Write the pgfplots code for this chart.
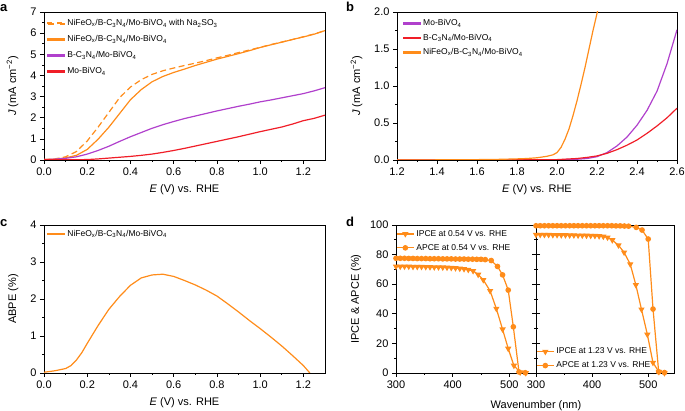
\documentclass[border=0pt]{standalone}
\usepackage{fontspec}
\setmainfont{Liberation Sans}
\usepackage{pgfplots}
\pgfplotsset{compat=1.18}
\definecolor{cor}{RGB}{255,140,26}
\definecolor{cpu}{RGB}{176,64,204}
\definecolor{cre}{RGB}{240,30,40}
\pgfplotsset{
  myax/.style={
    scale only axis, anchor=south west,
    axis line style={line width=0.8pt},
    every tick/.style={black, line width=0.6pt},
    tick align=outside, xtick pos=bottom, ytick pos=left,
    major tick length=4pt, minor tick length=2pt,
    tick label style={font=\fontsize{11}{12}\selectfont},
    label style={font=\fontsize{11}{12}\selectfont},
    xlabel shift=2.5pt, ylabel shift=5pt,
    /pgf/number format/assume math mode=true,
    legend cell align=left,
    legend style={draw=none, fill=none, font=\fontsize{8.5}{9.5}\selectfont, row sep=3.5pt, inner xsep=3pt, inner ysep=3pt},
  },
  ln/.style={line width=1.2pt},
  lgl/.style={legend image code/.code={\fill[##1] (0pt,-0.8pt) rectangle (17pt,0.8pt);}},
  lgd/.style={legend image code/.code={\fill[cor] (0pt,-0.8pt) rectangle (6pt,0.8pt); \fill[cor] (10pt,-0.8pt) rectangle (17pt,0.8pt);}},
  dec1/.style={/pgf/number format/.cd, fixed, fixed zerofill, precision=1},
}
\begin{document}
\begin{tikzpicture}[x=1pt,y=1pt]
\path[use as bounding box] (0,0) rectangle (685,411);
\node[anchor=base west, font=\fontsize{13}{14}\selectfont\bfseries, inner sep=0pt] at (0,399) {a};
\node[anchor=base west, font=\fontsize{13}{14}\selectfont\bfseries, inner sep=0pt] at (346,399) {b};
\node[anchor=base west, font=\fontsize{13}{14}\selectfont\bfseries, inner sep=0pt] at (0,184) {c};
\node[anchor=base west, font=\fontsize{13}{14}\selectfont\bfseries, inner sep=0pt] at (346,184) {d};

% ---------------- panel a
\begin{axis}[myax, lgl, at={(44pt,251pt)}, width=281pt, height=148pt,
  xmin=0, xmax=1.3, ymin=0, ymax=7,
  xtick={0,0.2,0.4,0.6,0.8,1.0,1.2}, minor x tick num=1,
  ytick={0,1,2,3,4,5,6,7}, minor y tick num=1,
  xticklabel style={dec1},
  xlabel={\textit{E} (V) vs. RHE}, ylabel={\textit{J} (mA cm\textsuperscript{−2})},
  legend style={at={(0,1)}, anchor=north west, row sep=4.3pt, inner ysep=5.5pt}]
\addplot[ln, cor, dash pattern=on 6pt off 3.5pt, lgd] coordinates {(0,0.02) (0.05,0.05) (0.1,0.15) (0.15,0.4) (0.2,0.9) (0.25,1.55) (0.3,2.25) (0.35,2.95) (0.4,3.45) (0.45,3.8) (0.5,4.05) (0.55,4.22) (0.6,4.35) (0.65,4.47) (0.7,4.58) (0.75,4.7) (0.8,4.83) (0.85,4.95) (0.9,5.08) (0.95,5.2) (1.0,5.33) (1.05,5.46) (1.1,5.58) (1.15,5.7) (1.2,5.83) (1.25,5.96) (1.3,6.12)};
\addlegendentry{NiFeO\textsubscript{x}/B-C\textsubscript{3}N\textsubscript{4}/Mo-BiVO\textsubscript{4} with Na\textsubscript{2}SO\textsubscript{3}}
\addplot[ln, cor] coordinates {(0,0.02) (0.05,0.04) (0.1,0.1) (0.15,0.22) (0.2,0.5) (0.25,0.98) (0.3,1.55) (0.35,2.2) (0.4,2.85) (0.45,3.33) (0.5,3.7) (0.55,3.95) (0.6,4.14) (0.65,4.3) (0.7,4.47) (0.75,4.62) (0.8,4.77) (0.85,4.9) (0.9,5.03) (0.95,5.17) (1.0,5.32) (1.05,5.45) (1.1,5.57) (1.15,5.7) (1.2,5.82) (1.25,5.95) (1.3,6.12)};
\addlegendentry{NiFeO\textsubscript{x}/B-C\textsubscript{3}N\textsubscript{4}/Mo-BiVO\textsubscript{4}}
\addplot[ln, cpu] coordinates {(0,0.02) (0.05,0.04) (0.1,0.08) (0.15,0.15) (0.2,0.28) (0.25,0.45) (0.3,0.65) (0.35,0.88) (0.4,1.1) (0.45,1.3) (0.5,1.5) (0.55,1.67) (0.6,1.82) (0.65,1.96) (0.7,2.08) (0.75,2.2) (0.8,2.32) (0.85,2.43) (0.9,2.54) (0.95,2.64) (1.0,2.75) (1.05,2.84) (1.1,2.94) (1.15,3.04) (1.2,3.14) (1.25,3.27) (1.3,3.42)};
\addlegendentry{B-C\textsubscript{3}N\textsubscript{4}/Mo-BiVO\textsubscript{4}}
\addplot[ln, cre] coordinates {(0,0.01) (0.1,0.01) (0.2,0.02) (0.25,0.05) (0.3,0.09) (0.35,0.13) (0.4,0.17) (0.45,0.22) (0.5,0.28) (0.55,0.36) (0.6,0.45) (0.65,0.55) (0.7,0.66) (0.75,0.77) (0.8,0.88) (0.85,0.99) (0.9,1.1) (0.95,1.22) (1.0,1.34) (1.05,1.45) (1.1,1.56) (1.15,1.7) (1.2,1.86) (1.25,1.97) (1.3,2.12)};
\addlegendentry{Mo-BiVO\textsubscript{4}}
\end{axis}

% ---------------- panel b
\begin{axis}[myax, lgl, at={(397pt,251pt)}, width=280pt, height=148pt,
  xmin=1.2, xmax=2.6, ymin=0, ymax=2,
  xtick={1.2,1.4,1.6,1.8,2.0,2.2,2.4,2.6}, minor x tick num=1,
  ytick={0,0.5,1,1.5,2}, minor y tick num=1,
  xticklabel style={dec1}, yticklabel style={dec1},
  xlabel={\textit{E} (V) vs. RHE}, ylabel={\textit{J} (mA cm\textsuperscript{−2})},
  legend style={at={(0.01,1)}, anchor=north west, row sep=2.8pt, inner ysep=5.5pt}]
\addplot[ln, cpu] coordinates {(1.2,0) (1.8,0.001) (2.0,0.002) (2.1,0.01) (2.15,0.02) (2.2,0.045) (2.25,0.1) (2.3,0.19) (2.35,0.31) (2.4,0.47) (2.45,0.67) (2.5,0.93) (2.55,1.3) (2.6,1.76)};
\addlegendentry{Mo-BiVO\textsubscript{4}}
\addplot[ln, cre] coordinates {(1.2,0) (1.8,0.002) (2.0,0.005) (2.1,0.02) (2.15,0.035) (2.2,0.055) (2.25,0.09) (2.3,0.14) (2.35,0.2) (2.4,0.27) (2.45,0.36) (2.5,0.46) (2.55,0.57) (2.6,0.7)};
\addlegendentry{B-C\textsubscript{3}N\textsubscript{4}/Mo-BiVO\textsubscript{4}}
\addplot[ln, cor] coordinates {(1.2,0) (1.4,0.002) (1.6,0.005) (1.7,0.008) (1.8,0.015) (1.85,0.02) (1.9,0.03) (1.95,0.05) (1.98,0.07) (2.0,0.1) (2.02,0.17) (2.04,0.28) (2.06,0.42) (2.08,0.6) (2.1,0.8) (2.12,1.02) (2.14,1.25) (2.16,1.5) (2.18,1.75) (2.2,1.98) (2.21,2.1)};
\addlegendentry{NiFeO\textsubscript{x}/B-C\textsubscript{3}N\textsubscript{4}/Mo-BiVO\textsubscript{4}}
\end{axis}

% ---------------- panel c
\begin{axis}[myax, lgl, at={(44pt,38pt)}, width=281pt, height=148pt,
  xmin=0, xmax=1.3, ymin=0, ymax=4,
  xtick={0,0.2,0.4,0.6,0.8,1.0,1.2}, minor x tick num=1,
  ytick={0,1,2,3,4}, minor y tick num=1,
  xticklabel style={dec1},
  xlabel={\textit{E} (V) vs. RHE}, ylabel={ABPE (\%)},
  legend style={at={(0,1)}, anchor=north west}]
\addplot[ln, cor] coordinates {(0,0.02) (0.05,0.06) (0.1,0.12) (0.125,0.2) (0.15,0.35) (0.175,0.55) (0.2,0.8) (0.25,1.28) (0.3,1.72) (0.35,2.07) (0.4,2.37) (0.45,2.57) (0.5,2.65) (0.55,2.67) (0.6,2.61) (0.65,2.5) (0.7,2.38) (0.75,2.24) (0.8,2.08) (0.85,1.87) (0.9,1.65) (0.95,1.42) (1.0,1.2) (1.05,0.97) (1.1,0.73) (1.15,0.47) (1.2,0.2) (1.23,0.0)};
\addlegendentry{NiFeO\textsubscript{x}/B-C\textsubscript{3}N\textsubscript{4}/Mo-BiVO\textsubscript{4}}
\end{axis}

% ---------------- panel d left
\begin{axis}[myax, at={(396pt,38pt)}, width=140pt, height=148pt,
  xmin=300, xmax=547, ymin=0, ymax=100,
  xtick={300,400,500}, minor x tick num=1,
  ytick={0,20,40,60,80,100}, minor y tick num=1,
  ytick pos=both, yticklabel pos=left,
  xlabel={Wavenumber (nm)}, ylabel={IPCE \& APCE (\%)},
  ylabel shift=2pt, xlabel shift=5pt,
  every axis x label/.append style={at={(ticklabel cs:1)}, anchor=north},
  legend style={at={(0,1)}, anchor=north west, inner xsep=0pt, row sep=2.5pt}]
\addplot[ln, cor, mark=triangle*, mark size=2.5pt, mark options={rotate=180, fill=cor}] coordinates {(300,72) (307.5,72) (315,72) (322.5,72) (330,71.8) (337.5,71.8) (345,71.8) (352.5,71.7) (360,71.6) (367.5,71.5) (375,71.5) (382.5,71.4) (390,71.3) (397.5,71.1) (405,70.9) (412.5,70.6) (420,70.3) (427.5,69.8) (436,69.0) (445,66.5) (454,62.9) (466,55.5) (477,43.5) (488,29.5) (498,16.5) (508,5) (519,0.5) (529,0)};
\addlegendentry{IPCE at 0.54 V vs. RHE}
\addplot[ln, cor, mark=*, mark size=2.2pt, mark options={fill=cor}] coordinates {(300,77.5) (307.5,77.5) (315,77.5) (322.5,77.4) (330,77.4) (337.5,77.3) (345,77.3) (352.5,77.3) (360,77.2) (367.5,77.2) (375,77.2) (382.5,77.1) (390,77.1) (397.5,77.1) (405,77.0) (412.5,77.0) (420,77.0) (427.5,76.9) (435,76.9) (442.5,76.8) (450,76.8) (457.5,76.6) (468,76) (479,72) (488,66.3) (498,56) (507,31.2) (517,0.7) (528,0.2)};
\addlegendentry{APCE at 0.54 V vs. RHE}
\end{axis}

% ---------------- panel d right
\begin{axis}[myax, at={(536pt,38pt)}, width=138pt, height=148pt,
  xmin=300, xmax=546, ymin=0, ymax=100,
  xtick={300,400,500}, minor x tick num=1,
  ytick={0,20,40,60,80,100}, minor y tick num=1,
  yticklabels={},
  legend style={at={(0,0)}, anchor=south west, inner xsep=0pt, inner ysep=1.5pt, row sep=2.5pt}]
\addplot[ln, cor, mark=triangle*, mark size=2.5pt, mark options={rotate=180, fill=cor}] coordinates {(300,93.5) (307.5,93.5) (315,93.4) (322.5,93.4) (330,93.3) (337.5,93.3) (345,93.2) (352.5,93.2) (360,93.1) (367.5,93.1) (375,93.0) (382.5,93.0) (390,92.9) (397.5,92.8) (405,92.7) (412.5,92.5) (420,92.2) (427.5,91.6) (436,89.8) (447,86.3) (457,81.5) (468,73.5) (478,59.5) (488,43) (498.5,26) (508.5,7) (519,0.8) (529,0)};
\addlegendentry{IPCE at 1.23 V vs. RHE}
\addplot[ln, cor, mark=*, mark size=2.2pt, mark options={fill=cor}] coordinates {(300,99.5) (307.5,99.5) (315,99.5) (322.5,99.5) (330,99.5) (337.5,99.5) (345,99.5) (352.5,99.5) (360,99.5) (367.5,99.5) (375,99.5) (382.5,99.5) (390,99.5) (397.5,99.5) (405,99.5) (412.5,99.5) (420,99.5) (427.5,99.5) (435,99.5) (442.5,99.4) (450,99.4) (457.5,99.3) (465,99.2) (478.7,98.4) (489,96.6) (500,90.5) (508.6,43.2) (518.7,0.8) (529,0.3)};
\addlegendentry{APCE at 1.23 V vs. RHE}
\end{axis}
\end{tikzpicture}
\end{document}
